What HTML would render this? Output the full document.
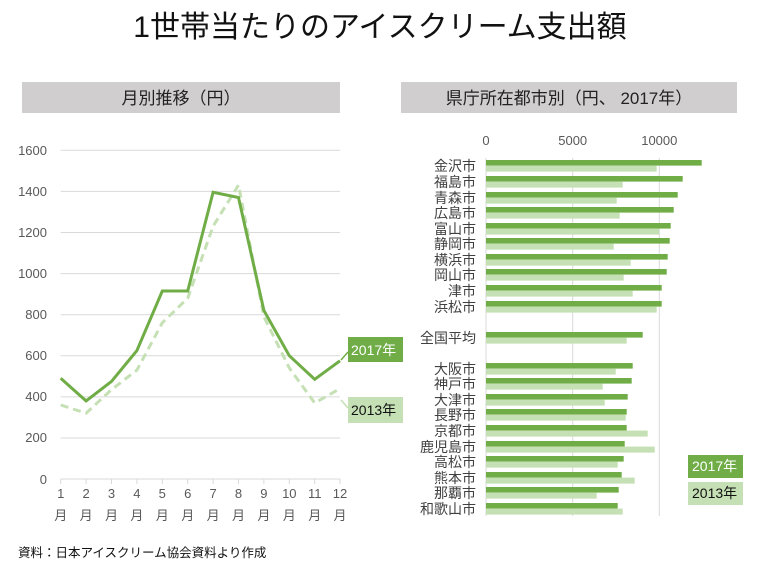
<!DOCTYPE html>
<html><head><meta charset="utf-8"><style>
body{margin:0;background:#fff;}
svg text{font-family:"Liberation Sans","Noto Sans CJK JP",sans-serif;}
</style></head><body>
<svg width="761" height="568" viewBox="0 0 761 568" xmlns="http://www.w3.org/2000/svg">
<rect width="761" height="568" fill="#fff"/>
<text x="380" y="37" font-size="30" text-anchor="middle" fill="#111">1世帯当たりのアイスクリーム支出額</text>
<rect x="22" y="82" width="318" height="31" fill="#d0cece"/>
<text x="181" y="104" font-size="17" text-anchor="middle" fill="#222">月別推移（円）</text>
<rect x="401" y="82" width="336" height="31" fill="#d0cece"/>
<text x="569" y="104" font-size="17" text-anchor="middle" fill="#222">県庁所在都市別（円、 2017年）</text>
<g stroke="#d9d9d9" stroke-width="1">
<line x1="60.7" x2="340" y1="150.3" y2="150.3"/><line x1="60.7" x2="340" y1="191.4" y2="191.4"/>
<line x1="60.7" x2="340" y1="232.5" y2="232.5"/><line x1="60.7" x2="340" y1="273.6" y2="273.6"/>
<line x1="60.7" x2="340" y1="314.7" y2="314.7"/><line x1="60.7" x2="340" y1="355.8" y2="355.8"/>
<line x1="60.7" x2="340" y1="396.9" y2="396.9"/><line x1="60.7" x2="340" y1="438" y2="438"/>
<line x1="60.7" x2="340" y1="479" y2="479"/>
</g>
<g stroke="#d9d9d9"><line x1="60.7" x2="60.7" y1="479" y2="484"/><line x1="86.1" x2="86.1" y1="479" y2="484"/><line x1="111.5" x2="111.5" y1="479" y2="484"/><line x1="136.9" x2="136.9" y1="479" y2="484"/><line x1="162.3" x2="162.3" y1="479" y2="484"/><line x1="187.7" x2="187.7" y1="479" y2="484"/><line x1="213.1" x2="213.1" y1="479" y2="484"/><line x1="238.5" x2="238.5" y1="479" y2="484"/><line x1="263.9" x2="263.9" y1="479" y2="484"/><line x1="289.3" x2="289.3" y1="479" y2="484"/><line x1="314.7" x2="314.7" y1="479" y2="484"/><line x1="340" x2="340" y1="479" y2="484"/></g>
<g font-size="13" fill="#595959" text-anchor="end">
<text x="47" y="155">1600</text><text x="47" y="196">1400</text><text x="47" y="237">1200</text><text x="47" y="278">1000</text><text x="47" y="319">800</text><text x="47" y="360">600</text><text x="47" y="401">400</text><text x="47" y="442">200</text><text x="47" y="484">0</text>
</g>
<g font-size="13" fill="#595959" text-anchor="middle">
<text x="60.7" y="498">1</text><text x="86.1" y="498">2</text><text x="111.5" y="498">3</text><text x="136.9" y="498">4</text><text x="162.3" y="498">5</text><text x="187.7" y="498">6</text><text x="213.1" y="498">7</text><text x="238.5" y="498">8</text><text x="263.9" y="498">9</text><text x="289.3" y="498">10</text><text x="314.7" y="498">11</text><text x="340" y="498">12</text>
<text x="60.7" y="520">月</text><text x="86.1" y="520">月</text><text x="111.5" y="520">月</text><text x="136.9" y="520">月</text><text x="162.3" y="520">月</text><text x="187.7" y="520">月</text><text x="213.1" y="520">月</text><text x="238.5" y="520">月</text><text x="263.9" y="520">月</text><text x="289.3" y="520">月</text><text x="314.7" y="520">月</text><text x="340" y="520">月</text>
</g>
<polyline fill="none" stroke="#c5e0b4" stroke-width="3" stroke-dasharray="8,5" points="60.7,405 86.1,413.2 111.5,389.6 136.9,370.1 162.3,322.8 187.7,298.2 213.1,226.2 238.5,185.1 263.9,316.7 289.3,368 314.7,403 340,388.6"/>
<polyline fill="none" stroke="#70ad47" stroke-width="3" points="60.7,378.3 86.1,400.9 111.5,381.4 136.9,350.6 162.3,291 187.7,291 213.1,192.3 238.5,197.5 263.9,310.5 289.3,355.7 314.7,379.3 340,360.8"/>
<line x1="341" y1="360" x2="348" y2="352" stroke="#70ad47" stroke-width="1.5"/>
<line x1="341" y1="400" x2="348" y2="408" stroke="#c5e0b4" stroke-width="1.5"/>
<rect x="348" y="337" width="55" height="25" fill="#70ad47"/>
<rect x="348" y="397" width="55" height="26" fill="#c5e0b4"/>
<text x="351" y="355" font-size="14" fill="#fff">2017年</text>
<text x="351" y="415" font-size="14" fill="#111">2013年</text>
<g stroke="#d9d9d9"><line x1="486" x2="486" y1="158" y2="516"/><line x1="572.7" x2="572.7" y1="158" y2="516"/><line x1="659.3" x2="659.3" y1="158" y2="516"/></g>
<g font-size="13" fill="#595959" text-anchor="middle"><text x="486" y="145">0</text><text x="572.7" y="145">5000</text><text x="659.3" y="145">10000</text></g>
<g id="bars"></g>
<g font-size="14" fill="#404040" text-anchor="end" id="labels"></g>
<rect x="688" y="455" width="55" height="23" fill="#70ad47"/>
<text x="692" y="471" font-size="14" fill="#fff">2017年</text>
<rect x="688" y="482" width="55" height="23" fill="#c5e0b4"/>
<text x="692" y="498" font-size="14" fill="#111">2013年</text>
<text x="18" y="557" font-size="12.5" fill="#111">資料：日本アイスクリーム協会資料より作成</text>
<script>
var d=[["金沢市",160,701.7,656.7],["福島市",176,682.7,622.7],["青森市",192,677.7,616.7],["広島市",207,673.7,619.7],["富山市",223,670.7,659.3],["静岡市",238,669.7,613.7],["横浜市",254,667.7,630.7],["岡山市",269,666.7,623.7],["津市",285,661.7,632.7],["浜松市",301,661.7,656.7],["全国平均",332,642.7,626.7],["大阪市",363,632.7,615.7],["神戸市",378,631.7,602.7],["大津市",394,627.7,604.7],["長野市",409,626.7,625.7],["京都市",425,626.7,647.7],["鹿児島市",441,624.7,654.7],["高松市",456,623.7,617.7],["熊本市",472,621.7,634.7],["那覇市",487,618.7,596.7],["和歌山市",503,617.7,622.7]];
var ns="http://www.w3.org/2000/svg",b=document.getElementById("bars"),l=document.getElementById("labels");
d.forEach(function(r){
 var a=document.createElementNS(ns,"rect");a.setAttribute("x",486);a.setAttribute("y",r[1]);a.setAttribute("width",r[2]-486);a.setAttribute("height",5.6);a.setAttribute("fill","#70ad47");b.appendChild(a);
 var c=document.createElementNS(ns,"rect");c.setAttribute("x",486);c.setAttribute("y",r[1]+5.6);c.setAttribute("width",r[3]-486);c.setAttribute("height",6);c.setAttribute("fill","#c5e0b4");b.appendChild(c);
 var t=document.createElementNS(ns,"text");t.setAttribute("x",476);t.setAttribute("y",r[1]+11);t.textContent=r[0];l.appendChild(t);
});
</script>
</svg>
</body></html>
